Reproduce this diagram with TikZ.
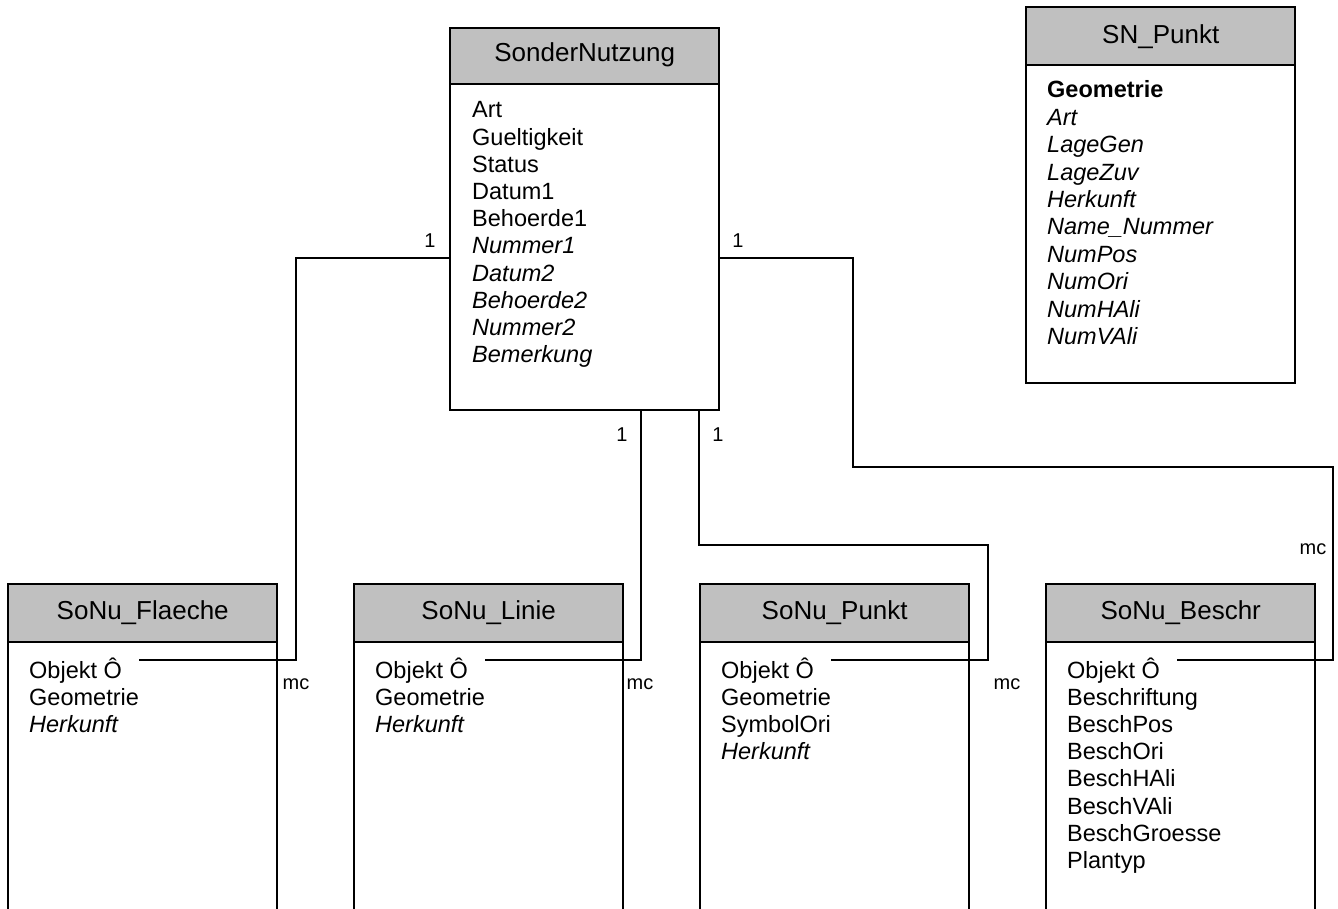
\documentclass[tikz,border=0pt]{standalone}
\usepackage{fontspec}
\setmainfont{Liberation Sans}
\definecolor{hdr}{RGB}{192,192,192}
\begin{document}
\begin{tikzpicture}[x=1pt,y=1pt,
  boxline/.style={line width=2pt},
  conn/.style={line width=1.6pt},
  hdrtext/.style={font=\fontsize{26}{30}\selectfont},
  bodytext/.style={anchor=base west,inner sep=0pt,font=\fontsize{23.5}{27}\selectfont},
  lbl/.style={inner sep=0pt,font=\fontsize{20}{24}\selectfont}]
\useasboundingbox (0,0) rectangle (1338,-909);
\fill[white] (0,0) rectangle (1338,-909);

% ---------- SonderNutzung
\node[inner sep=0,minimum width=269pt,minimum height=382pt,anchor=north west] (SN) at (450,-28) {};
\fill[hdr] (SN.north west) rectangle ([yshift=-56pt]SN.north east);
\draw[boxline] (SN.north west) rectangle (SN.south east);
\draw[boxline] ([yshift=-56pt]SN.north west) -- ([yshift=-56pt]SN.north east);
\node[hdrtext] (SNh) at ([yshift=-27pt]SN.north) {SonderNutzung};
\foreach \t [count=\i] in {Art,Gueltigkeit,Status,Datum1,Behoerde1,\itshape Nummer1,\itshape Datum2,\itshape Behoerde2,\itshape Nummer2,\itshape Bemerkung}
  \node[bodytext] (SNt\i) at (472,{-118-(\i-1)*27.2}) {\t};

% ---------- SN_Punkt
\node[inner sep=0,minimum width=269pt,minimum height=376pt,anchor=north west] (SP) at (1026,-7) {};
\fill[hdr] (SP.north west) rectangle ([yshift=-58pt]SP.north east);
\draw[boxline] (SP.north west) rectangle (SP.south east);
\draw[boxline] ([yshift=-58pt]SP.north west) -- ([yshift=-58pt]SP.north east);
\node[hdrtext] (SPh) at ([yshift=-30pt]SP.north) {SN\_Punkt};
\foreach \t [count=\i] in {\bfseries Geometrie,\itshape Art,\itshape LageGen,\itshape LageZuv,\itshape Herkunft,\itshape Name\_Nummer,\itshape NumPos,\itshape NumOri,\itshape NumHAli,\itshape NumVAli}
  \node[bodytext] (SPt\i) at (1047,{-98-(\i-1)*27.4}) {\t};

% ---------- bottom classes
\foreach \nm/\x/\title in {FL/8/SoNu\_Flaeche,LI/354/SoNu\_Linie,PU/700/SoNu\_Punkt,BE/1046/SoNu\_Beschr}{
  \node[inner sep=0,minimum width=269pt,minimum height=325pt,anchor=north west] (\nm) at (\x,-584) {};
  \fill[hdr] (\nm.north west) rectangle ([yshift=-58pt]\nm.north east);
  \draw[boxline] (\nm.south west) -- (\nm.north west) -- (\nm.north east) -- (\nm.south east);
  \draw[boxline] ([yshift=-58pt]\nm.north west) -- ([yshift=-58pt]\nm.north east);
  \node[hdrtext] (\nm h) at ([yshift=-29pt]\nm.north) {\title};
}
\foreach \t [count=\i] in {Objekt Ô,Geometrie,\itshape Herkunft}
  \node[bodytext] (FLt\i) at (29,{-678-(\i-1)*27.2}) {\t};
\foreach \t [count=\i] in {Objekt Ô,Geometrie,\itshape Herkunft}
  \node[bodytext] (LIt\i) at (375,{-678-(\i-1)*27.2}) {\t};
\foreach \t [count=\i] in {Objekt Ô,Geometrie,SymbolOri,\itshape Herkunft}
  \node[bodytext] (PUt\i) at (721,{-678-(\i-1)*27.2}) {\t};
\foreach \t [count=\i] in {Objekt Ô,Beschriftung,BeschPos,BeschOri,BeschHAli,BeschVAli,BeschGroesse,Plantyp}
  \node[bodytext] (BEt\i) at (1067,{-678-(\i-1)*27.2}) {\t};

% ---------- connector end points
\coordinate (FLin) at ([xshift=17pt,yshift=18pt]FLt1.base east);
\coordinate (LIin) at ([xshift=17pt,yshift=18pt]LIt1.base east);
\coordinate (PUin) at ([xshift=17pt,yshift=18pt]PUt1.base east);
\coordinate (BEin) at ([xshift=17pt,yshift=18pt]BEt1.base east);
\coordinate (SNl) at ([yshift=-230pt]SN.north west);
\coordinate (SNr) at ([yshift=-230pt]SN.north east);
\coordinate (SNb1) at ([xshift=191pt]SN.south west);
\coordinate (SNb2) at ([xshift=249pt]SN.south west);
\coordinate (k1) at (296,-660);
\coordinate (k3) at (988,-545);
\coordinate (k4) at (853,-467);
\coordinate (k5) at (1333,-660);

\draw[conn] (SNl) -| (k1) -- (FLin);
\draw[conn] (SNb1) |- (LIin);
\draw[conn] (SNb2) |- (k3) |- (PUin);
\draw[conn] (SNr) -| (k4) -| (k5) -- (BEin);

% ---------- multiplicities
\node[lbl] (m1) at (430,-241) {1};
\node[lbl] (m2) at (738,-241) {1};
\node[lbl] (m3) at (622,-435) {1};
\node[lbl] (m4) at (718,-435) {1};
\node[lbl] (m5) at (296,-684) {mc};
\node[lbl] (m6) at (640,-684) {mc};
\node[lbl] (m7) at (1007,-684) {mc};
\node[lbl] (m8) at (1313,-549) {mc};
\end{tikzpicture}
\end{document}
